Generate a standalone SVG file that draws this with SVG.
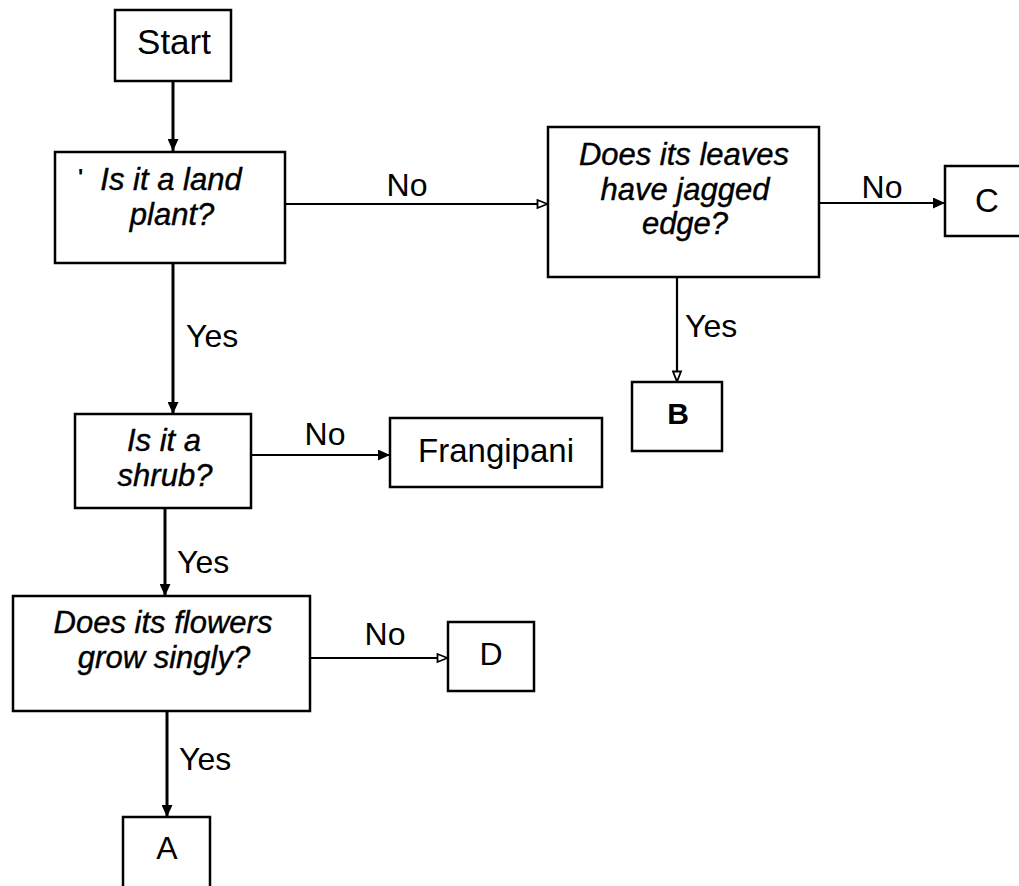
<svg xmlns="http://www.w3.org/2000/svg" width="1019" height="886" viewBox="0 0 1019 886">
  <style>
    .box { fill: #ffffff; stroke: #000000; stroke-width: 2.5; }
    .q { font-family: "Liberation Sans", Arial, sans-serif; font-style: italic; font-size: 31px; fill: #000; stroke: #000; stroke-width: 0.4; text-anchor: middle; }
    .t { font-family: "Liberation Sans", Arial, sans-serif; font-size: 33px; fill: #000; text-anchor: middle; }
    .lbl { font-family: "Liberation Sans", Arial, sans-serif; font-size: 32px; fill: #000; }
    .mid { text-anchor: middle; }
    .conn { fill: none; stroke: #000000; stroke-width: 2.2; }
    .v { stroke-width: 3; }
  </style>
  <defs>
    <marker id="ah" markerWidth="13" markerHeight="11" refX="12" refY="5.5" orient="auto" markerUnits="userSpaceOnUse">
      <path d="M0,0 L12,5.5 L0,11 Z" fill="#000"/>
    </marker>
    <marker id="ao" markerWidth="13" markerHeight="11" refX="12" refY="5.5" orient="auto" markerUnits="userSpaceOnUse">
      <path d="M1.5,1.5 L11.5,5.5 L1.5,9.5 Z" fill="#fff" stroke="#000" stroke-width="1.8"/>
    </marker>
  </defs>
  <rect x="0" y="0" width="1019" height="886" fill="#ffffff"/>

  <g id="connectors">
    <path class="conn v" d="M173,81 L173,151" marker-end="url(#ah)"/>
    <path class="conn" d="M285,204 L548,204" marker-end="url(#ao)"/>
    <text class="lbl mid" x="407" y="196">No</text>
    <path class="conn" d="M819,203 L945,203" marker-end="url(#ah)"/>
    <text class="lbl mid" x="882" y="198">No</text>
    <path class="conn" d="M677,277 L677,382" marker-end="url(#ao)"/>
    <text class="lbl" x="685" y="337">Yes</text>
    <path class="conn v" d="M173,263 L173,414" marker-end="url(#ah)"/>
    <text class="lbl" x="186" y="347">Yes</text>
    <path class="conn" d="M251,455 L390,455" marker-end="url(#ah)"/>
    <text class="lbl mid" x="325" y="445">No</text>
    <path class="conn v" d="M165,508 L165,596" marker-end="url(#ah)"/>
    <text class="lbl" x="177" y="573">Yes</text>
    <path class="conn" d="M310,658 L448,658" marker-end="url(#ao)"/>
    <text class="lbl mid" x="385" y="645">No</text>
    <path class="conn v" d="M167,711 L167,817" marker-end="url(#ah)"/>
    <text class="lbl" x="179" y="770">Yes</text>
  </g>

  <g id="start">
    <rect class="box" x="115" y="10" width="116" height="71"/>
    <text class="t" x="174" y="54" style="font-size:35px">Start</text>
  </g>

  <g id="land">
    <rect class="box" x="55" y="152" width="230" height="111"/>
    <text class="lbl" x="78" y="184" style="font-size:22px;font-weight:bold">'</text>
    <text class="q" x="171" y="190">Is it a land</text>
    <text class="q" x="172" y="225">plant?</text>
  </g>

  <g id="leaves">
    <rect class="box" x="548" y="127" width="271" height="150"/>
    <text class="q" x="684" y="165">Does its leaves</text>
    <text class="q" x="685" y="200">have jagged</text>
    <text class="q" x="685" y="234">edge?</text>
  </g>

  <g id="c">
    <rect class="box" x="945" y="166" width="90" height="70"/>
    <text class="t" x="987" y="212">C</text>
  </g>

  <g id="b">
    <rect class="box" x="632" y="382" width="90" height="69"/>
    <text class="t" x="678" y="424" style="font-size:30px;font-weight:bold">B</text>
  </g>

  <g id="shrub">
    <rect class="box" x="75" y="414" width="176" height="94"/>
    <text class="q" x="164" y="451">Is it a</text>
    <text class="q" x="165" y="486">shrub?</text>
  </g>

  <g id="frangipani">
    <rect class="box" x="390" y="418" width="212" height="69"/>
    <text class="t" x="496" y="462">Frangipani</text>
  </g>

  <g id="flowers">
    <rect class="box" x="13" y="596" width="297" height="115"/>
    <text class="q" x="163" y="633">Does its flowers</text>
    <text class="q" x="164" y="668">grow singly?</text>
  </g>

  <g id="d">
    <rect class="box" x="448" y="622" width="86" height="69"/>
    <text class="t" x="491" y="665" style="font-size:32px">D</text>
  </g>

  <g id="a">
    <rect class="box" x="123" y="817" width="87" height="80"/>
    <text class="t" x="167" y="859" style="font-size:32px">A</text>
  </g>
</svg>
